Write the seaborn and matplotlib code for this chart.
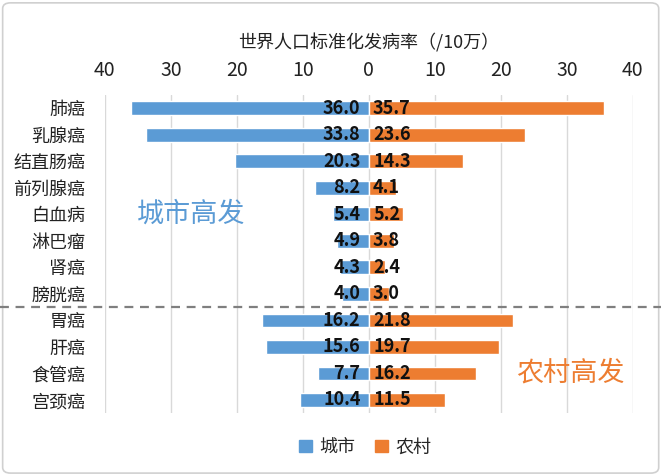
import pandas as pd
import seaborn as sns
import matplotlib.pyplot as plt
import numpy as np
from matplotlib.patches import FancyBboxPatch, Patch
from matplotlib.lines import Line2D
from matplotlib import transforms

# data
cancers = ['肺癌', '乳腺癌', '结直肠癌', '前列腺癌', '白血病', '淋巴瘤', '肾癌', '膀胱癌',
           '胃癌', '肝癌', '食管癌', '宫颈癌']
urban = [36.0, 33.8, 20.3, 8.2, 5.4, 4.9, 4.3, 4.0, 16.2, 15.6, 7.7, 10.4]
rural = [35.7, 23.6, 14.3, 4.1, 5.2, 3.8, 2.4, 3.0, 21.8, 19.7, 16.2, 11.5]
series = ['城市', '农村']
ticks = [-40, -30, -20, -10, 0, 10, 20, 30, 40]
n_urban_high = 8

blue = '#5B9BD5'
orange = '#ED7D31'

df = pd.DataFrame({
    'cancer': cancers * 2,
    'value': [-v for v in urban] + rural,
    'series': [series[0]] * len(cancers) + [series[1]] * len(cancers),
})

sns.set_theme(style='white')
plt.rcParams['font.family'] = ['Noto Sans CJK SC', 'DejaVu Sans']

fig = plt.figure(figsize=(6.64, 4.75), dpi=100)
ax = fig.add_axes([0.158, 0.13, 0.795, 0.67])

sns.barplot(data=df, y='cancer', x='value', hue='series', dodge=False,
            palette=[blue, orange], saturation=1, width=0.52, ax=ax, legend=False, orient='h')

ax.set_xlim(-40, 40)
ax.set_ylim(len(cancers) - 0.5, -0.5)
ax.set_xticks(ticks)
ax.set_xticklabels([str(abs(t)) for t in ticks], fontsize=14, color='#222222')
ax.xaxis.tick_top()
ax.xaxis.set_label_position('top')
ax.set_xlabel('世界人口标准化发病率（/10万）', fontsize=13, labelpad=8, color='#222222')
ax.set_ylabel('')
ax.tick_params(axis='x', length=0, pad=10)
ax.tick_params(axis='y', length=0, pad=14, labelsize=13, labelcolor='#222222')
ax.grid(axis='x', color='#d9d9d9', linewidth=1)
ax.set_axisbelow(True)
for s in ax.spines.values():
    s.set_visible(False)

# value labels
for i, (u, r) in enumerate(zip(urban, rural)):
    ax.annotate(f'{u:.1f}', (0, i), xytext=(-6, 0), textcoords='offset points',
                ha='right', va='center', fontsize=13, fontweight='bold', color='#111111')
    ax.annotate(f'{r:.1f}', (0, i), xytext=(3, 0), textcoords='offset points',
                ha='left', va='center', fontsize=13, fontweight='bold', color='#111111')

# separator
trans = transforms.blended_transform_factory(fig.transFigure, ax.transData)
fig.add_artist(Line2D([0.0, 0.995], [n_urban_high - 0.5] * 2, transform=trans,
                      color='#7f7f7f', linestyle=(0, (4, 3)), linewidth=1.6))

ax.text(-27, 4, '城市高发', color=blue, fontsize=19.5, ha='center', va='center')
ax.text(30.5, 10, '农村高发', color=orange, fontsize=19.5, ha='center', va='center')

handles = [Patch(color=blue, label=series[0]), Patch(color=orange, label=series[1])]
fig.legend(handles=handles, loc='center', bbox_to_anchor=(0.55, 0.058), ncol=2,
           frameon=False, fontsize=13, handlelength=0.7, handleheight=0.7,
           handletextpad=0.4, columnspacing=1.1)

fig.add_artist(FancyBboxPatch((0.004, 0.004), 0.988, 0.99, boxstyle='round,pad=0,rounding_size=0.012',
                              transform=fig.transFigure, fill=False, edgecolor='#d0d0d0', linewidth=1.2))

fig.savefig('out.png', dpi=100)
